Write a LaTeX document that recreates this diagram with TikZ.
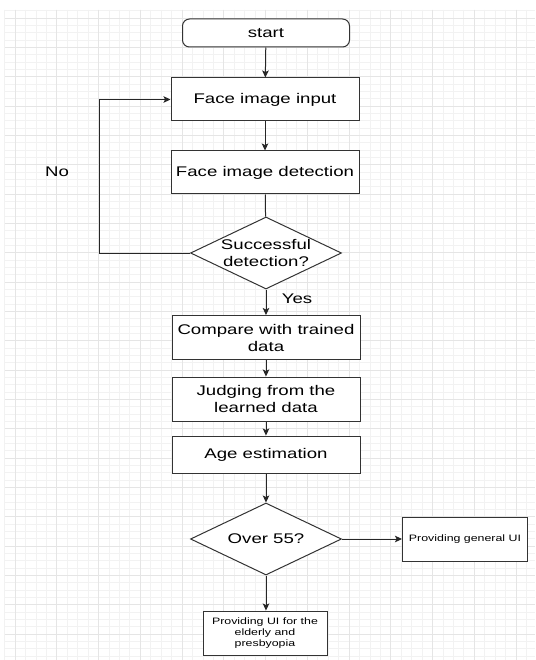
\documentclass[tikz,border=0pt]{standalone}
\usepackage{fontspec}
\setmainfont{Liberation Sans}[FakeStretch=1.33]
\usetikzlibrary{shapes.geometric,arrows.meta}

\begin{document}
\begin{tikzpicture}[x=1pt,y=-1pt,
		gridminor/.style={black!5,line width=0.7pt},
		gridmajor/.style={black!10,line width=0.9pt},
		box/.style={draw=black!80,line width=1pt,fill=white,minimum width=188pt,minimum height=43pt,align=center,inner sep=2pt,font=\fontsize{14}{17}\selectfont},
		smallbox/.style={box,minimum width=125pt,minimum height=44pt,font=\fontsize{9.3}{10.8}\selectfont},
		decision/.style={draw=black!80,line width=1pt,fill=white,diamond,shape aspect=2.1,minimum width=151pt,minimum height=72pt,inner sep=0pt,align=center,font=\fontsize{14}{17}\selectfont},
		arr/.style={black!85,line width=1pt,-{Stealth[length=7pt,width=6.5pt,inset=1.5pt]}},
		line/.style={black!85,line width=1pt}]
		\useasboundingbox (0,0) rectangle (535,660);
		\fill[white] (0,0) rectangle (535,660);
		% background grid
		\foreach \k in {-1,...,50} \draw[gridminor] ({15+10.4375*\k},10) -- ({15+10.4375*\k},660);
		\foreach \k in {-1,...,87} \draw[gridminor] (5,{18+7.3333*\k}) -- (535,{18+7.3333*\k});
		\foreach \k in {0,...,12} \draw[gridmajor] ({15+41.75*\k},10) -- ({15+41.75*\k},660);
		\foreach \k in {0,...,21} \draw[gridmajor] (5,{18+29.3333*\k}) -- (535,{18+29.3333*\k});
		% flow
		\node[box,rounded corners=7pt,minimum width=167pt,minimum height=28pt] (start) at (266,33) {start};
		\node[box] (input) at (265,99.5) {Face image input};
		\node[box] (detect) at (265,172.5) {Face image detection};
		\node[decision] (success) at (266,253) {Successful\\detection?};
		\node[box,minimum height=44pt] (compare) at (266,337.5) {Compare with trained\\data};
		\node[box,minimum height=44pt] (judge) at (266,399) {Judging from the\\learned data};
		\node[box,minimum height=37pt] (age) at (266,454.5) {Age estimation};
		\node[decision] (over) at (266,539) {Over 55?};
		\node[smallbox] (general) at (465,539) {Providing general UI};
		\node[smallbox,minimum width=124pt] (elderly) at (265,633) {Providing UI for the\\elderly and\\presbyopia};
		\node[font=\fontsize{14}{17}\selectfont] (no) at (57,172) {No};
		\node[font=\fontsize{14}{17}\selectfont] (yes) at (297,299) {Yes};
		\coordinate (loop) at (99,253);
		\draw[arr] (start) -- (input);
		\draw[arr] (input) -- (detect);
		\draw[line] (detect) -- (success);
		\draw[arr] (success.west) -- (loop) |- (input.west);
		\draw[arr] (success.south) -- (success.south |- compare.north);
		\draw[arr] (compare) -- (judge);
		\draw[arr] (judge) -- (age);
		\draw[arr] (age.south) -- (over.north);
		\draw[arr] (over.east) -- (general.west);
		\draw[arr] (over.south) -- (over.south |- elderly.north);
	\end{tikzpicture}
\end{document}
